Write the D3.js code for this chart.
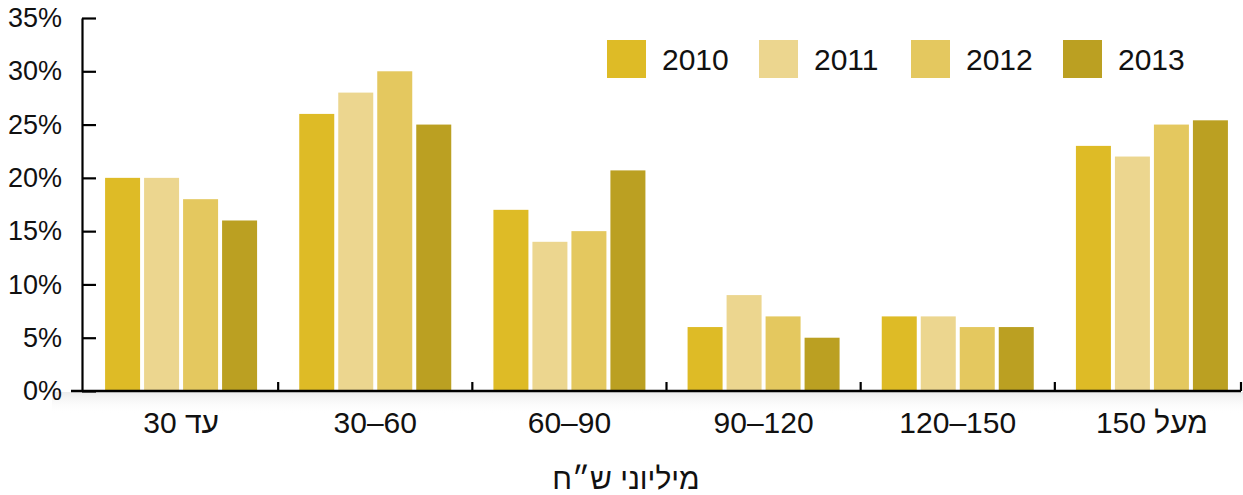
<!DOCTYPE html>
<html>
<head>
<meta charset="utf-8">
<script src="https://cdn.jsdelivr.net/npm/d3@7"></script>
<style>
  html, body { margin: 0; padding: 0; background: #ffffff; }
  svg { display: block; font-family: "Liberation Sans", Arial, sans-serif; }
</style>
</head>
<body>
<svg id="chart" width="1243" height="495"></svg>
<script>
// ---- data ----
const categories = ["עד 30", "30–60", "60–90", "90–120", "120–150", "מעל 150"];
const seriesNames = ["2010", "2011", "2012", "2013"];
const values2010 = [20, 26, 17, 6, 7, 23];
const values2011 = [20, 28, 14, 9, 7, 22];
const values2012 = [18, 30, 15, 7, 6, 25];
const values2013 = [16, 25, 20.7, 5, 6, 25.4];
const yTicks = [0, 5, 10, 15, 20, 25, 30, 35];
const axisTitle = "מיליוני ש״ח";
const colors = ["#DEBB26", "#ECD68F", "#E4C85F", "#BBA022"];

const seriesValues = [values2010, values2011, values2012, values2013];
const rows = categories.map((c, i) => ({
  cat: c,
  vals: seriesNames.map((s, j) => ({ key: s, idx: j, value: seriesValues[j][i] }))
}));

// ---- layout ----
const W = 1243;
const svg = d3.select("#chart");
const xLeft = 82, xRight = 1249, yTop = 18, yBottom = 391;
const axisEnd = Math.min(xRight, W - 2);

const x0 = d3.scaleBand().domain(categories).range([xLeft + 2, xRight]).paddingInner(0).paddingOuter(0);
const groupW = 152;
const x1 = d3.scaleBand().domain(seriesNames)
  .range([(x0.bandwidth() - groupW) / 2, (x0.bandwidth() + groupW) / 2])
  .paddingInner(4 / 39).paddingOuter(0);
const y = d3.scaleLinear().domain([0, 35]).range([yBottom, yTop]);
const color = d3.scaleOrdinal().domain(seriesNames).range(colors);

// subtle shadow beneath x axis
const defs = svg.append("defs");
const grad = defs.append("linearGradient").attr("id", "shadow").attr("x1", 0).attr("y1", 0).attr("x2", 0).attr("y2", 1);
grad.append("stop").attr("offset", "0%").attr("stop-color", "#e6e6e6").attr("stop-opacity", 0.8);
grad.append("stop").attr("offset", "100%").attr("stop-color", "#ffffff").attr("stop-opacity", 0);
svg.append("rect").attr("x", xLeft - 30).attr("y", yBottom + 1)
  .attr("width", W - (xLeft - 30)).attr("height", 22).attr("fill", "url(#shadow)");

// bars
const groups = svg.append("g").selectAll("g").data(rows).join("g")
  .attr("transform", d => `translate(${x0(d.cat)},0)`);
groups.selectAll("rect").data(d => d.vals).join("rect")
  .attr("x", d => x1(d.key))
  .attr("width", x1.bandwidth())
  .attr("y", d => y(d.value))
  .attr("height", d => y(0) - y(d.value))
  .attr("fill", d => color(d.key));

// y axis (ticks pointing inward)
const yAxis = d3.axisLeft(y).tickValues(yTicks).tickFormat(d => d + "%")
  .tickSizeInner(-14).tickSizeOuter(0).tickPadding(20);
const gy = svg.append("g").attr("transform", `translate(${xLeft},0)`).call(yAxis);
gy.select(".domain").attr("stroke", "#000").attr("stroke-width", 2.2);
gy.selectAll(".tick line").attr("stroke", "#000").attr("stroke-width", 2.2);
gy.selectAll(".tick text").attr("font-size", 27).attr("fill", "#111")
  .attr("font-family", "Liberation Sans, Arial, sans-serif");

// x axis
const gx = svg.append("g");
gx.append("line").attr("x1", xLeft - 11).attr("x2", axisEnd).attr("y1", yBottom).attr("y2", yBottom)
  .attr("stroke", "#000").attr("stroke-width", 2.4);
gx.selectAll("line.bt").data(categories).join("line").attr("class", "bt")
  .attr("x1", d => Math.min(x0(d) + x0.bandwidth(), axisEnd))
  .attr("x2", d => Math.min(x0(d) + x0.bandwidth(), axisEnd))
  .attr("y1", yBottom).attr("y2", yBottom - 9)
  .attr("stroke", "#000").attr("stroke-width", 2.2);
const xAxis = d3.axisBottom(x0).tickSize(0).tickPadding(19);
const gxl = svg.append("g").attr("transform", `translate(0,${yBottom})`).call(xAxis);
gxl.select(".domain").remove();
gxl.selectAll(".tick text")
  .attr("font-size", 30).attr("fill", "#111")
  .attr("font-family", "Liberation Sans, Arial, sans-serif")
  .attr("direction", d => /[\u0590-\u05FF]/.test(d) ? "rtl" : "ltr")
  .attr("dy", "0.75em");

// axis title
svg.append("text").attr("x", 626).attr("y", 489)
  .attr("text-anchor", "middle").attr("direction", "rtl")
  .attr("font-size", 30).attr("fill", "#111")
  .text(axisTitle);

// legend
const legend = svg.append("g").attr("transform", "translate(607,40)");
const li = legend.selectAll("g").data(seriesNames).join("g")
  .attr("transform", (d, i) => `translate(${i * 152},0)`);
li.append("rect").attr("width", 39).attr("height", 38).attr("fill", d => color(d));
li.append("text").attr("x", 55).attr("y", 19).attr("dy", "0.36em")
  .attr("font-size", 30).attr("fill", "#111").text(d => d);
</script>
</body>
</html>
